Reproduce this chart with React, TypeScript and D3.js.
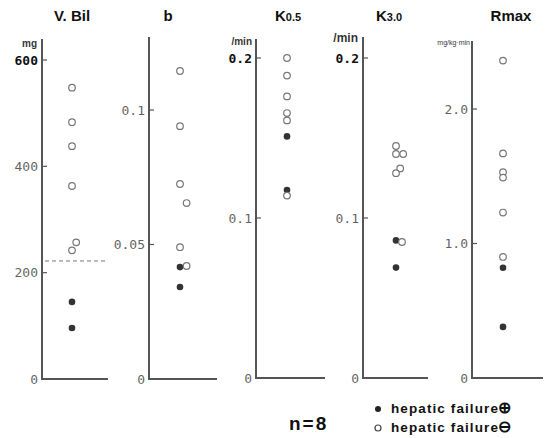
import React from "react";
import * as d3 from "d3";

// ---- data ----
const vbilOpen = [548, 483, 438, 363, 257, 242];
const vbilOpenLane = [0, 0, 0, 0, 0.7, 0];
const vbilFilled = [145, 96];
const vbilCutoff = 222;
const vbilTicks = [0, 200, 400, 600];

const bOpen = [0.1145, 0.094, 0.0725, 0.0654, 0.049, 0.042];
const bOpenLane = [0, 0, 0, 1.1, 0, 1.1];
const bFilled = [0.0416, 0.0342];
const bTicks = [0, 0.05, 0.1];

const k05Open = [0.2, 0.189, 0.176, 0.1656, 0.161, 0.114];
const k05OpenLane = [0, 0, 0, 0, 0, 0];
const k05Filled = [0.151, 0.1175];
const k05Ticks = [0, 0.1, 0.2];

const k30Open = [0.145, 0.14, 0.14, 0.131, 0.128, 0.085];
const k30OpenLane = [0, 0, 1.2, 0.7, 0, 1];
const k30Filled = [0.086, 0.069];
const k30Ticks = [0, 0.1, 0.2];

const rmaxOpen = [2.36, 1.67, 1.53, 1.49, 1.23, 0.9];
const rmaxOpenLane = [0, 0, 0, 0, 0, 0];
const rmaxFilled = [0.82, 0.38];
const rmaxTicks = [0, 1.0, 2.0];

const legendN = "n=8";
const legendLabel = "hepatic failure";
const legendSigns = ["⊕", "⊖"];

type Panel = {
  title: string;
  sub?: string;
  unit: string;
  open: number[];
  lanes: number[];
  filled: number[];
  ticks: number[];
  fmt: (v: number) => string;
  axisX: number;
  axisTop: number;
  axisRight: number;
  y0: number;
  topVal: number;
  yTopVal: number;
  titleX: number;
  dotDx: number;
  unitX: number;
  unitY: number;
  unitSize: number;
  topBold: boolean;
};

const panels: Panel[] = [
  {
    title: "V. Bil", unit: "mg", open: vbilOpen, lanes: vbilOpenLane, filled: vbilFilled,
    ticks: vbilTicks, fmt: (v) => d3.format("d")(v),
    axisX: 42, axisTop: 39, axisRight: 108, y0: 379, topVal: 600, yTopVal: 60,
    titleX: 72, dotDx: 30, unitX: 37, unitY: 47, unitSize: 10, topBold: true,
  },
  {
    title: "b", unit: "", open: bOpen, lanes: bOpenLane, filled: bFilled,
    ticks: bTicks, fmt: (v) => (v === 0 ? "0" : String(v)),
    axisX: 149, axisTop: 37, axisRight: 217, y0: 379, topVal: 0.1, yTopVal: 110,
    titleX: 168, dotDx: 31, unitX: 0, unitY: 0, unitSize: 10, topBold: false,
  },
  {
    title: "K", sub: "0.5", unit: "/min", open: k05Open, lanes: k05OpenLane, filled: k05Filled,
    ticks: k05Ticks, fmt: (v) => (v === 0 ? "0" : String(v)),
    axisX: 256, axisTop: 39, axisRight: 325, y0: 378, topVal: 0.2, yTopVal: 58,
    titleX: 288, dotDx: 31, unitX: 252, unitY: 45, unitSize: 10, topBold: true,
  },
  {
    title: "K", sub: "3.0", unit: "/min", open: k30Open, lanes: k30OpenLane, filled: k30Filled,
    ticks: k30Ticks, fmt: (v) => (v === 0 ? "0" : String(v)),
    axisX: 363, axisTop: 37, axisRight: 428, y0: 378, topVal: 0.2, yTopVal: 58,
    titleX: 389, dotDx: 33, unitX: 358, unitY: 42, unitSize: 12, topBold: true,
  },
  {
    title: "Rmax", unit: "mg/kg·min", open: rmaxOpen, lanes: rmaxOpenLane, filled: rmaxFilled,
    ticks: rmaxTicks, fmt: (v) => (v === 0 ? "0" : d3.format(".1f")(v)),
    axisX: 472, axisTop: 41, axisRight: 543, y0: 378, topVal: 2.0, yTopVal: 109,
    titleX: 511, dotDx: 31, unitX: 470, unitY: 45, unitSize: 7, topBold: false,
  },
];

const AXIS = "#555";
const R = 3.3;

export default function App() {
  return (
    <svg width={549} height={438} style={{ position: "absolute", left: 0, top: 0, background: "#fff" }}
      fontFamily="'Liberation Sans', Arial, sans-serif">
      {panels.map((p, pi) => {
        const y = d3.scaleLinear().domain([0, p.topVal]).range([p.y0, p.yTopVal]);
        const cx = p.axisX + p.dotDx;
        const maxTick = d3.max(p.ticks) as number;
        return (
          <g key={pi}>
            <text x={p.titleX} y={21} textAnchor="middle" fontSize={15} fontWeight="bold" fill="#111">
              {p.title}
              {p.sub ? <tspan fontSize={11}>{p.sub}</tspan> : null}
            </text>
            {p.unit ? (
              <text x={p.unitX} y={p.unitY} textAnchor="end" fontSize={p.unitSize} fill="#000" opacity={0.8}
                fontWeight={p.unitSize > 8 ? "bold" : "normal"}>
                {p.unit}
              </text>
            ) : null}
            <line x1={p.axisX} x2={p.axisX} y1={p.axisTop} y2={p.y0 + 1} stroke={AXIS} strokeWidth={2} />
            <line x1={p.axisX - 1} x2={p.axisRight} y1={p.y0} y2={p.y0} stroke={AXIS} strokeWidth={2} />
            {p.ticks.map((t, ti) => {
              const strong = p.topBold && t === maxTick;
              return (
                <g key={ti}>
                  {t !== 0 ? (
                    <line x1={p.axisX} x2={p.axisX + 5} y1={y(t)} y2={y(t)} stroke={AXIS} strokeWidth={1.2} />
                  ) : null}
                  <text x={p.axisX - 4} y={y(t)} dy="0.35em" textAnchor="end"
                    fontFamily="'DejaVu Sans Mono', monospace" fontSize={13}
                    fontWeight={strong ? "bold" : "normal"}
                    fill="#000" opacity={strong ? 0.93 : 0.62}>
                    {p.fmt(t)}
                  </text>
                </g>
              );
            })}
            {pi === 0 ? (
              <line x1={p.axisX + 3} x2={p.axisRight} y1={y(vbilCutoff)} y2={y(vbilCutoff)}
                stroke="#777" strokeWidth={1} strokeDasharray="4,3" />
            ) : null}
            {p.filled.map((v, i) => (
              <circle key={"f" + i} cx={cx} cy={y(v)} r={R} fill="#333" />
            ))}
            {p.open.map((v, i) => (
              <circle key={"o" + i} cx={cx + p.lanes[i] * 6} cy={y(v)} r={R} fill="#fff" stroke="#777" strokeWidth={1.2} />
            ))}
          </g>
        );
      })}
      <text x={289} y={430} fontSize={19} fontWeight="bold" fill="#111" letterSpacing={2}>{legendN}</text>
      <circle cx={378} cy={409} r={3} fill="#222" />
      <text x={391} y={413} fontSize={13.5} fontWeight="bold" fill="#111" letterSpacing={1.1}>
        {legendLabel}<tspan fontSize={16} dx={-1}>{legendSigns[0]}</tspan>
      </text>
      <circle cx={378} cy={428} r={3} fill="#fff" stroke="#444" strokeWidth={1.2} />
      <text x={391} y={432} fontSize={13.5} fontWeight="bold" fill="#111" letterSpacing={1.1}>
        {legendLabel}<tspan fontSize={16} dx={-1}>{legendSigns[1]}</tspan>
      </text>
    </svg>
  );
}
